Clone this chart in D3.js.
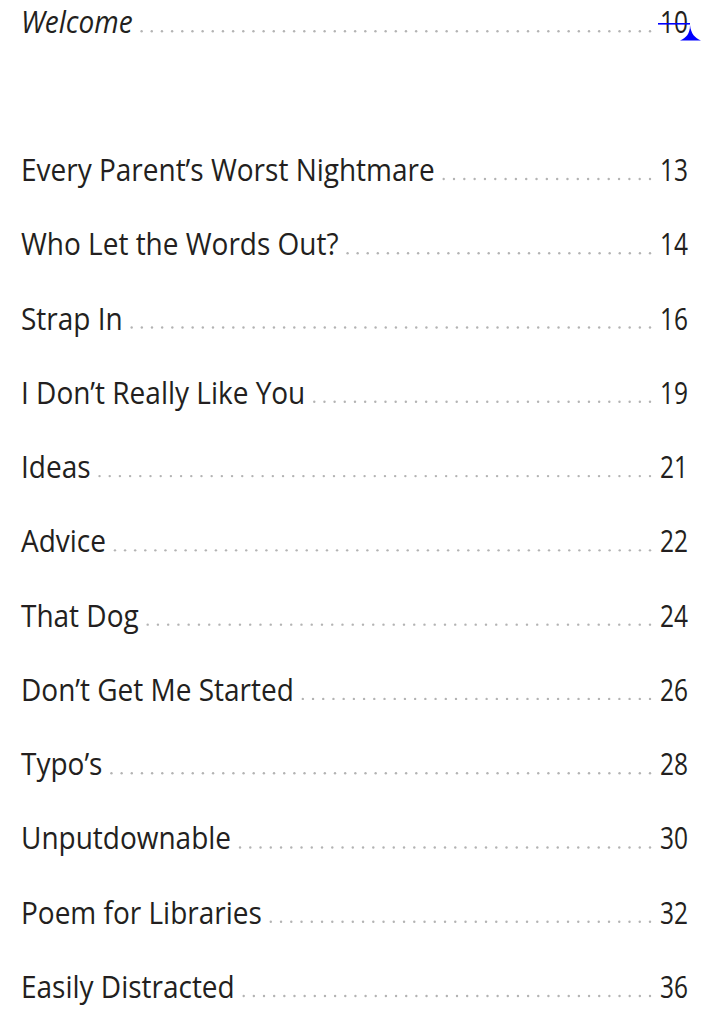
<!DOCTYPE html>
<html>
<head>
<meta charset="utf-8">
<script src="https://cdn.jsdelivr.net/npm/d3@7"></script>
<style>
  body { margin: 0; background: #fff; }
  svg text { font-family: "Open Sans", sans-serif; fill: #231f20; }
</style>
</head>
<body>
<div id="chart"></div>
<script>
// contents data
var introTitle = "Welcome";
var introPage = "10";
var titles = [
  "Every Parent\u2019s Worst Nightmare",
  "Who Let the Words Out?",
  "Strap In",
  "I Don\u2019t Really Like You",
  "Ideas",
  "Advice",
  "That Dog",
  "Don\u2019t Get Me Started",
  "Typo\u2019s",
  "Unputdownable",
  "Poem for Libraries",
  "Easily Distracted"
];
var pages = ["13", "14", "16", "19", "21", "22", "24", "26", "28", "30", "32", "36"];

var width = 713, height = 1009;
var left = 21, right = 688;
var fontSize = 31;

var svg = d3.select("#chart").append("svg")
  .attr("width", width)
  .attr("height", height);

// row positions (baselines)
var y = d3.scalePoint()
  .domain(d3.range(titles.length))
  .range([181, 998]);

var dotStep = 10.15;

// measure how wide the font runs, squeeze to match the printed page
var probe = svg.append("text").attr("font-size", fontSize).text(titles[0]);
var sx = 414 / probe.node().getComputedTextLength();
probe.text(pages[0]);
var nx = 28 / probe.node().getComputedTextLength();
probe.remove();

function addRow(g, title, page, baseline, italic) {
  var row = g.append("g");
  var t = row.append("text")
    .attr("transform", "translate(" + left + "," + baseline + ") scale(" + sx + ",1)")
    .attr("font-size", fontSize)
    .attr("font-style", italic ? "italic" : null)
    .text(title);
  var tw = t.node().getComputedTextLength() * sx;

  var p = row.append("text")
    .attr("transform", "translate(" + right + "," + baseline + ") scale(" + nx + ",1)")
    .attr("font-size", fontSize)
    .attr("text-anchor", "end")
    .text(page);
  var pw = p.node().getComputedTextLength() * nx;

  // leader dots spread evenly between title and page number
  var start = left + tw + 9, end = right - pw - 10;
  var n = Math.max(1, Math.round((end - start) / dotStep));
  var dots = d3.range(n + 1).map(function(k) { return start + k * (end - start) / n; });
  row.selectAll("circle")
    .data(dots)
    .enter().append("circle")
    .attr("cx", function(d) { return d; })
    .attr("cy", baseline - 2)
    .attr("r", 1.2)
    .attr("fill", "#b3b3b3");
  return { pageWidth: pw };
}

var introBase = 33.3;
var intro = addRow(svg, introTitle, introPage, introBase, true);

// blue correction mark over the intro page number
var markX0 = right - intro.pageWidth - 2;
svg.append("line")
  .attr("x1", markX0).attr("x2", right + 2)
  .attr("y1", introBase - 9.5).attr("y2", introBase - 9.5)
  .attr("stroke", "#0000ff")
  .attr("stroke-width", 1.6);
svg.append("path")
  .attr("d", "M690,25 C690,34 686,38 680,40.5 L701,40.5 C695,38 691,34 690,25 Z")
  .attr("fill", "#0000ff");

titles.forEach(function(t, i) {
  addRow(svg, t, pages[i], y(i), false);
});
</script>
</body>
</html>
